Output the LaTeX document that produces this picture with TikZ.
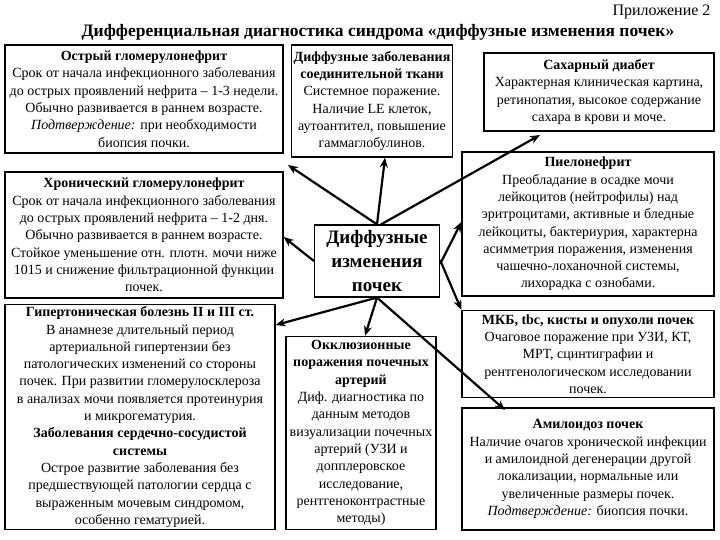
\documentclass[tikz,border=0pt]{standalone}
\usepackage{fontspec}
\setmainfont{Liberation Serif}
\usetikzlibrary{arrows.meta}
\begin{document}
\begin{tikzpicture}[x=1pt,y=-1pt,
 bx/.style={draw,line width=1.2pt,align=center,inner sep=1pt,font=\fontsize{14}{17.3}\selectfont},
 ar/.style={-{Stealth[length=10pt,width=8pt]},line width=2.2pt}]
\useasboundingbox (0,0) rectangle (720,540);
\node[anchor=north east,font=\fontsize{16}{18}\selectfont] (app) at (714,1) {Приложение 2};
\node[font=\bfseries\fontsize{17.5}{19}\selectfont] (title) at (378,32) {Дифференциальная диагностика синдрома «диффузные изменения почек»};
\node[bx,minimum width=278pt,minimum height=108pt] (b1) at (144,99) {\textbf{Острый гломерулонефрит}\\Срок от начала инфекционного заболевания\\до острых проявлений нефрита – 1-3 недели.\\Обычно развивается в раннем возрасте.\\\textit{Подтверждение:} при необходимости\\биопсия почки.};
\node[bx,minimum width=161pt,minimum height=112pt] (b2) at (372,101) {\textbf{Диффузные заболевания}\\\textbf{соединительной ткани}\\Системное поражение.\\Наличие LE клеток,\\аутоантител, повышение\\гаммаглобулинов.};
\node[bx,minimum width=230pt,minimum height=78pt] (b3) at (599,92) {\textbf{Сахарный диабет}\\Характерная клиническая картина,\\ретинопатия, высокое содержание\\сахара в крови и моче.};
\node[bx,minimum width=278pt,minimum height=126pt] (b4) at (144,235) {\textbf{Хронический гломерулонефрит}\\Срок от начала инфекционного заболевания\\до острых проявлений нефрита – 1-2 дня.\\Обычно развивается в раннем возрасте.\\Стойкое уменьшение отн. плотн. мочи ниже\\1015 и снижение фильтрационной функции\\почек.};
\node[bx,minimum width=125pt,minimum height=72pt,font=\bfseries\fontsize{19}{24}\selectfont] (c) at (377,261) {Диффузные\\изменения\\почек};
\node[bx,minimum width=252pt,minimum height=144pt] (b5) at (588,224) {\textbf{Пиелонефрит}\\Преобладание в осадке мочи\\лейкоцитов (нейтрофилы) над\\эритроцитами, активные и бледные\\лейкоциты, бактериурия, характерна\\асимметрия поражения, изменения\\чашечно-лоханочной системы,\\лихорадка с ознобами.};
\node[bx,minimum width=270pt,minimum height=225pt] (b6) at (140,417) {\textbf{Гипертоническая болезнь II и III ст.}\\В анамнезе длительный период\\артериальной гипертензии без\\патологических изменений со стороны\\почек. При развитии гломерулосклероза\\в анализах мочи появляется протеинурия\\и микрогематурия.\\\textbf{Заболевания сердечно-сосудистой}\\\textbf{системы}\\Острое развитие заболевания без\\предшествующей патологии сердца с\\выраженным мочевым синдромом,\\особенно гематурией.};
\node[bx,minimum width=150pt,minimum height=193pt] (b7) at (361,433) {\textbf{Окклюзионные}\\\textbf{поражения почечных}\\\textbf{артерий}\\Диф. диагностика по\\данным методов\\визуализации почечных\\артерий (УЗИ и\\допплеровское\\исследование,\\рентгеноконтрастные\\методы)};
\node[bx,minimum width=252pt,minimum height=87pt] (b8) at (588,354) {\textbf{МКБ, tbc, кисты и опухоли почек}\\Очаговое поражение при УЗИ, КТ,\\МРТ, сцинтиграфии и\\рентгенологическом исследовании\\почек.};
\node[bx,minimum width=252pt,minimum height=122pt] (b9) at (588,469) {\textbf{Амилоидоз почек}\\Наличие очагов хронической инфекции\\и амилоидной дегенерации другой\\локализации, нормальные или\\увеличенные размеры почек.\\\textit{Подтверждение:} биопсия почки.};
\coordinate (e1) at (288,165);
\coordinate (e3) at (540,135);
\coordinate (e9) at (505,410);
\draw[ar] (c.north) -- (e1);
\draw[ar] (c.north) -- (b2.south -| 385,0);
\draw[ar] ([xshift=4pt]c.north) -- (e3);
\draw[ar] (c.west) -- (b4.east |- 0,237);
\draw[ar] ([yshift=-3pt]c.east) -- (b5.west |- 0,222);
\draw[ar] ([yshift=1pt]c.east) -- (b8.north west);
\draw[ar] (c.south) -- (b6.east |- 0,325);
\draw[ar] (c.south) -- (b7.north -| 365,0);
\draw[ar] (c.south) -- (e9);
\end{tikzpicture}
\end{document}
